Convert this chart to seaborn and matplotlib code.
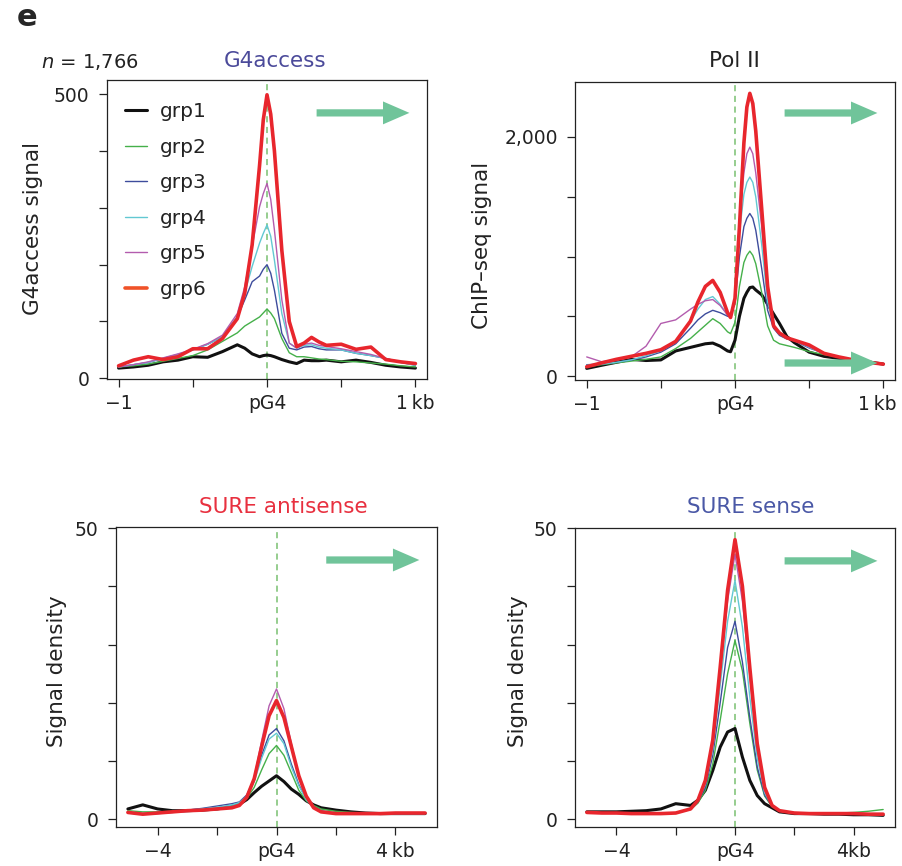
import matplotlib
matplotlib.use("Agg")
import matplotlib.pyplot as plt
from matplotlib.lines import Line2D
from matplotlib.transforms import ScaledTranslation
import seaborn as sns
import pandas as pd

# ---- data ----
groups = ["grp1", "grp2", "grp3", "grp4", "grp5", "grp6"]

# G4access (top left), position in kb
g4_pos = [-1, -0.9, -0.8, -0.7, -0.6, -0.5, -0.4, -0.3, -0.2, -0.15, -0.1, -0.05, -0.025,
          0, 0.025, 0.05, 0.1, 0.15, 0.2, 0.25, 0.3, 0.35, 0.4, 0.5, 0.6, 0.7, 0.8, 0.9, 1.0]
g4_grp1 = [18, 20, 23, 29, 32, 38, 37, 47, 59, 53, 43, 38, 40, 41, 40, 38, 33, 29, 26, 32, 31,
           31, 32, 29, 32, 28, 23, 20, 18]
g4_grp2 = [20, 22, 25, 30, 35, 40, 50, 65, 80, 92, 100, 108, 115, 122, 115, 105, 70, 45, 38, 38,
           36, 34, 33, 30, 29, 27, 25, 22, 20]
g4_grp3 = [20, 24, 28, 35, 42, 50, 60, 73, 108, 138, 170, 180, 192, 200, 185, 155, 79, 53, 50, 55,
           56, 52, 50, 50, 44, 40, 35, 28, 23]
g4_grp4 = [20, 24, 28, 35, 42, 50, 60, 73, 109, 150, 197, 238, 255, 270, 250, 208, 114, 62, 53, 58,
           59, 55, 53, 50, 44, 40, 35, 28, 23]
g4_grp5 = [20, 24, 29, 36, 43, 51, 61, 76, 114, 161, 232, 302, 325, 343, 315, 261, 138, 62, 53, 60,
           62, 58, 56, 52, 47, 42, 35, 29, 25]
g4_grp6 = [22, 32, 38, 33, 38, 52, 52, 70, 105, 150, 235, 375, 455, 499, 465, 400, 225, 100, 56, 62,
           72, 64, 58, 60, 51, 55, 33, 29, 26]

# Pol II ChIP-seq (top right)
pol_pos = [-1, -0.9, -0.8, -0.7, -0.6, -0.5, -0.4, -0.3, -0.25, -0.2, -0.15, -0.1, -0.05, -0.03,
           0, 0.03, 0.06, 0.08, 0.1, 0.12, 0.14, 0.18, 0.22, 0.26, 0.3, 0.35, 0.4, 0.5, 0.6, 0.7,
           0.8, 0.9, 1.0]
pol_grp1 = [64, 90, 115, 140, 130, 135, 210, 240, 255, 270, 276, 250, 210, 203, 300, 500, 650, 700,
            740, 745, 720, 680, 600, 520, 440, 330, 280, 200, 165, 148, 133, 118, 100]
pol_grp2 = [78, 95, 110, 125, 140, 160, 230, 315, 370, 425, 480, 440, 370, 355, 450, 750, 950, 1010,
            1045, 1010, 940, 700, 420, 300, 270, 255, 240, 205, 180, 160, 135, 115, 100]
pol_grp3 = [95, 100, 115, 135, 160, 200, 270, 400, 470, 520, 550, 530, 500, 495, 620, 1000, 1250,
            1320, 1360, 1320, 1220, 900, 550, 400, 340, 310, 295, 235, 190, 160, 135, 115, 100]
pol_grp4 = [90, 100, 115, 135, 170, 210, 290, 460, 560, 640, 665, 600, 510, 495, 640, 1200, 1520,
            1620, 1665, 1620, 1500, 1100, 620, 420, 350, 315, 300, 240, 190, 160, 135, 115, 100]
pol_grp5 = [160, 120, 135, 160, 250, 440, 470, 560, 600, 630, 640, 590, 510, 495, 660, 1300, 1700,
            1860, 1915, 1860, 1700, 1250, 680, 430, 355, 320, 300, 245, 190, 160, 135, 115, 100]
pol_grp6 = [78, 110, 140, 165, 190, 220, 290, 460, 620, 750, 800, 700, 530, 490, 650, 1250, 1950,
            2250, 2365, 2280, 2050, 1400, 750, 420, 360, 320, 300, 260, 190, 160, 135, 115, 100]

# SURE antisense / sense (bottom), position in kb
sure_pos = [-5, -4.5, -4, -3.5, -3, -2.5, -2, -1.5, -1.25, -1, -0.75, -0.5, -0.25, 0, 0.25, 0.5,
            0.75, 1, 1.25, 1.5, 2, 2.5, 3, 3.5, 4, 4.5, 5]
anti_grp1 = [1.8, 2.5, 1.8, 1.5, 1.5, 1.6, 1.8, 2.2, 2.6, 3.4, 4.6, 5.7, 6.6, 7.5, 6.5, 5.2, 4.3,
             3.2, 2.5, 2.0, 1.6, 1.3, 1.1, 1.0, 1.0, 1.0, 1.0]
anti_grp2 = [1.5, 1.3, 1.3, 1.4, 1.5, 1.6, 1.9, 2.3, 2.8, 3.6, 5.5, 8.5, 11.3, 12.7, 11.0, 8.0, 5.0,
             3.2, 2.4, 1.8, 1.4, 1.2, 1.1, 1.0, 1.0, 1.0, 1.0]
anti_grp3 = [1.2, 1.0, 1.1, 1.3, 1.6, 1.9, 2.3, 2.7, 3.0, 4.2, 7.0, 11.0, 14.5, 15.6, 13.5, 9.5, 6.0,
             3.5, 2.2, 1.5, 1.1, 1.0, 1.0, 1.0, 1.0, 1.0, 1.0]
anti_grp4 = [1.3, 1.0, 1.1, 1.3, 1.5, 1.8, 2.1, 2.5, 2.9, 4.0, 6.5, 10.5, 13.8, 14.8, 13.0, 9.0, 5.8,
             3.4, 2.0, 1.4, 1.1, 1.0, 1.0, 1.0, 1.0, 1.0, 1.0]
anti_grp5 = [1.1, 0.9, 1.0, 1.2, 1.4, 1.6, 1.9, 2.2, 2.6, 3.8, 7.2, 13.5, 19.5, 22.4, 19.0, 13.0, 7.5,
             3.8, 2.0, 1.3, 1.0, 1.0, 1.0, 1.0, 1.0, 1.0, 1.0]
anti_grp6 = [1.2, 0.9, 1.1, 1.3, 1.5, 1.6, 1.8, 2.0, 2.4, 3.8, 7.0, 12.5, 17.8, 20.4, 17.5, 12.5, 7.5,
             4.0, 2.0, 1.3, 1.0, 1.0, 1.0, 1.0, 1.1, 1.1, 1.1]

sense_grp1 = [1.3, 1.3, 1.3, 1.4, 1.5, 1.8, 2.7, 2.4, 3.3, 5.0, 8.4, 12.4, 15.0, 15.6, 10.7, 6.7, 4.1,
              2.7, 2.0, 1.3, 1.0, 1.0, 0.9, 0.9, 0.8, 0.8, 0.7]
sense_grp2 = [1.2, 1.1, 1.1, 1.0, 1.0, 1.0, 1.1, 1.7, 2.8, 5.0, 9.5, 17.0, 25.0, 30.7, 25.5, 16.5, 8.5,
              4.0, 2.2, 1.5, 1.1, 1.0, 1.0, 1.1, 1.2, 1.4, 1.7]
sense_grp3 = [1.2, 1.1, 1.1, 1.0, 1.0, 1.0, 1.1, 1.8, 3.0, 5.5, 11.0, 20.0, 29.5, 34.0, 27.0, 17.5, 9.0,
              4.2, 2.3, 1.5, 1.1, 1.0, 1.0, 1.0, 1.0, 0.9, 0.9]
sense_grp4 = [1.2, 1.1, 1.1, 1.0, 1.0, 1.0, 1.1, 1.8, 3.1, 6.0, 12.0, 23.0, 34.0, 41.0, 33.0, 21.0, 10.5,
              4.6, 2.3, 1.5, 1.1, 1.0, 1.0, 1.0, 1.0, 0.9, 0.9]
sense_grp5 = [1.2, 1.1, 1.1, 1.0, 1.0, 1.0, 1.1, 1.8, 3.2, 6.4, 13.0, 25.0, 37.5, 45.5, 37.5, 24.5, 12.0,
              5.0, 2.4, 1.5, 1.1, 1.0, 1.0, 1.0, 1.0, 0.9, 0.9]
sense_grp6 = [1.2, 1.1, 1.1, 1.0, 1.0, 1.0, 1.1, 1.8, 3.3, 6.7, 13.6, 26.1, 39.3, 48.0, 40.0, 26.0, 13.0,
              5.5, 2.4, 1.5, 1.1, 1.0, 1.0, 1.0, 1.0, 0.9, 0.9]

colors = ["#111111", "#45b04a", "#3d4c9c", "#62c8d2", "#b35cae", "#e8262d"]
legend_colors = ["#111111", "#45b04a", "#3d4c9c", "#62c8d2", "#b35cae", "#f05228"]
widths = [2.2, 1.0, 1.0, 1.0, 1.0, 2.6]
arrow_color = "#70c49a"
vline_color = "#79c070"

sns.set_style("ticks")
plt.rcParams["font.family"] = ["DejaVu Sans"]
plt.rcParams["axes.linewidth"] = 0.9
plt.rcParams["axes.edgecolor"] = "#222222"

W, H = 902, 866
fig = plt.figure(figsize=(W / 100, H / 100), dpi=100)


def box(x0, y0, x1, y1):
    return [x0 / W, 1 - y1 / H, (x1 - x0) / W, (y1 - y0) / H]


def fxy(x, y):
    return x / W, 1 - y / H


def panel(rect, pos, series, xlim, ylim, xticks, xlabels, yticks, ylabels, ylab, lab_xy, arrows):
    ax = fig.add_axes(rect)
    for grp, vals, c, lw in zip(groups, series, colors, widths):
        df = pd.DataFrame({"pos": pos, "signal": vals})
        sns.lineplot(data=df, x="pos", y="signal", color=c, linewidth=lw, ax=ax, legend=False)
    ax.axvline(0, color=vline_color, lw=1.1, dashes=(4, 3), zorder=0)
    ax.set_xlim(*xlim)
    ax.set_ylim(*ylim)
    ax.set_xticks(xticks)
    ax.set_xticklabels(xlabels)
    ax.set_yticks(yticks)
    ax.set_yticklabels(ylabels)
    ax.tick_params(axis="both", direction="out", length=5.5, width=0.9, labelsize=13.5,
                   color="#222222", labelcolor="#222222")
    ax.tick_params(axis="x", pad=5)
    ax.tick_params(axis="y", pad=7)
    ax.set_xlabel("")
    ax.set_ylabel(ylab, fontsize=15.5, color="#222222")
    ax.yaxis.set_label_coords(*lab_xy)
    for ya in arrows:
        ax.annotate("", xy=(0.945, ya), xytext=(0.655, ya), xycoords="axes fraction",
                    arrowprops=dict(arrowstyle="simple,head_length=1.9,head_width=1.65,tail_width=0.52",
                                    mutation_scale=10, fc=arrow_color, ec="none",
                                    shrinkA=0, shrinkB=0))
    return ax


ax1 = panel(box(107, 80, 427, 379), g4_pos,
            [g4_grp1, g4_grp2, g4_grp3, g4_grp4, g4_grp5, g4_grp6],
            (-1.078, 1.078), (-1.2, 525),
            [-1, -0.5, 0, 0.5, 1], ["\u22121", "", "pG4", "", "1\u2009kb"],
            [0, 100, 200, 300, 400, 500], ["0", "", "", "", "", "500"],
            "G4access signal", (-0.2, 0.505), [0.89])

ax2 = panel(box(575, 82, 895, 380), pol_pos,
            [pol_grp1, pol_grp2, pol_grp3, pol_grp4, pol_grp5, pol_grp6],
            (-1.079, 1.079), (-33, 2460),
            [-1, -0.5, 0, 0.5, 1], ["\u22121", "", "pG4", "", "1\u2009kb"],
            [0, 500, 1000, 1500, 2000], ["0", "", "", "", "2,000"],
            "ChIP\u2013seq signal", (-0.26, 0.45), [0.896, 0.057])

ax3 = panel(box(116, 527, 437, 827), sure_pos,
            [anti_grp1, anti_grp2, anti_grp3, anti_grp4, anti_grp5, anti_grp6],
            (-5.4, 5.4), (-1.3, 50.2),
            [-4, -2, 0, 2, 4], ["\u22124", "", "pG4", "", "4\u2009kb"],
            [0, 10, 20, 30, 40, 50], ["0", "", "", "", "", "50"],
            "Signal density", (-0.153, 0.52), [0.89])

ax4 = panel(box(575, 528, 895, 827), sure_pos,
            [sense_grp1, sense_grp2, sense_grp3, sense_grp4, sense_grp5, sense_grp6],
            (-5.4, 5.4), (-1.3, 50),
            [-4, -2, 0, 2, 4], ["\u22124", "", "pG4", "", "4kb"],
            [0, 10, 20, 30, 40, 50], ["0", "", "", "", "", "50"],
            "Signal density", (-0.147, 0.52), [0.89])

# keep the right-hand "1 kb" inside the canvas
last = ax2.get_xticklabels()[-1]
last.set_transform(last.get_transform() + ScaledTranslation(-4 / 72, 0, fig.dpi_scale_trans))

# legend in the G4access panel
handles = [Line2D([0], [0], color=c, lw=lw) for c, lw in zip(legend_colors, widths)]
ax1.legend(handles, groups, loc="upper left", bbox_to_anchor=(0.056, 0.925), frameon=False,
           fontsize=14.5, handlelength=1.1, handletextpad=0.65, labelspacing=0.82,
           borderpad=0, borderaxespad=0, labelcolor="#222222")

# panel letter and titles
fig.text(*fxy(17, 18), "e", fontsize=22, fontweight="bold", ha="left", va="center")
fig.text(*fxy(41, 62), r"$n$ = 1,766", fontsize=14, ha="left", va="center", color="#222222")
fig.text(*fxy(275, 61), "G4access", fontsize=15.5, ha="center", va="center", color="#4b4a9a")
fig.text(*fxy(734, 61), "Pol II", fontsize=15.5, ha="center", va="center", color="#222222")
fig.text(*fxy(283, 507), "SURE antisense", fontsize=15.5, ha="center", va="center", color="#e8303f")
fig.text(*fxy(751, 507), "SURE sense", fontsize=15.5, ha="center", va="center", color="#4a58a6")

fig.savefig("out.png", dpi=100)
